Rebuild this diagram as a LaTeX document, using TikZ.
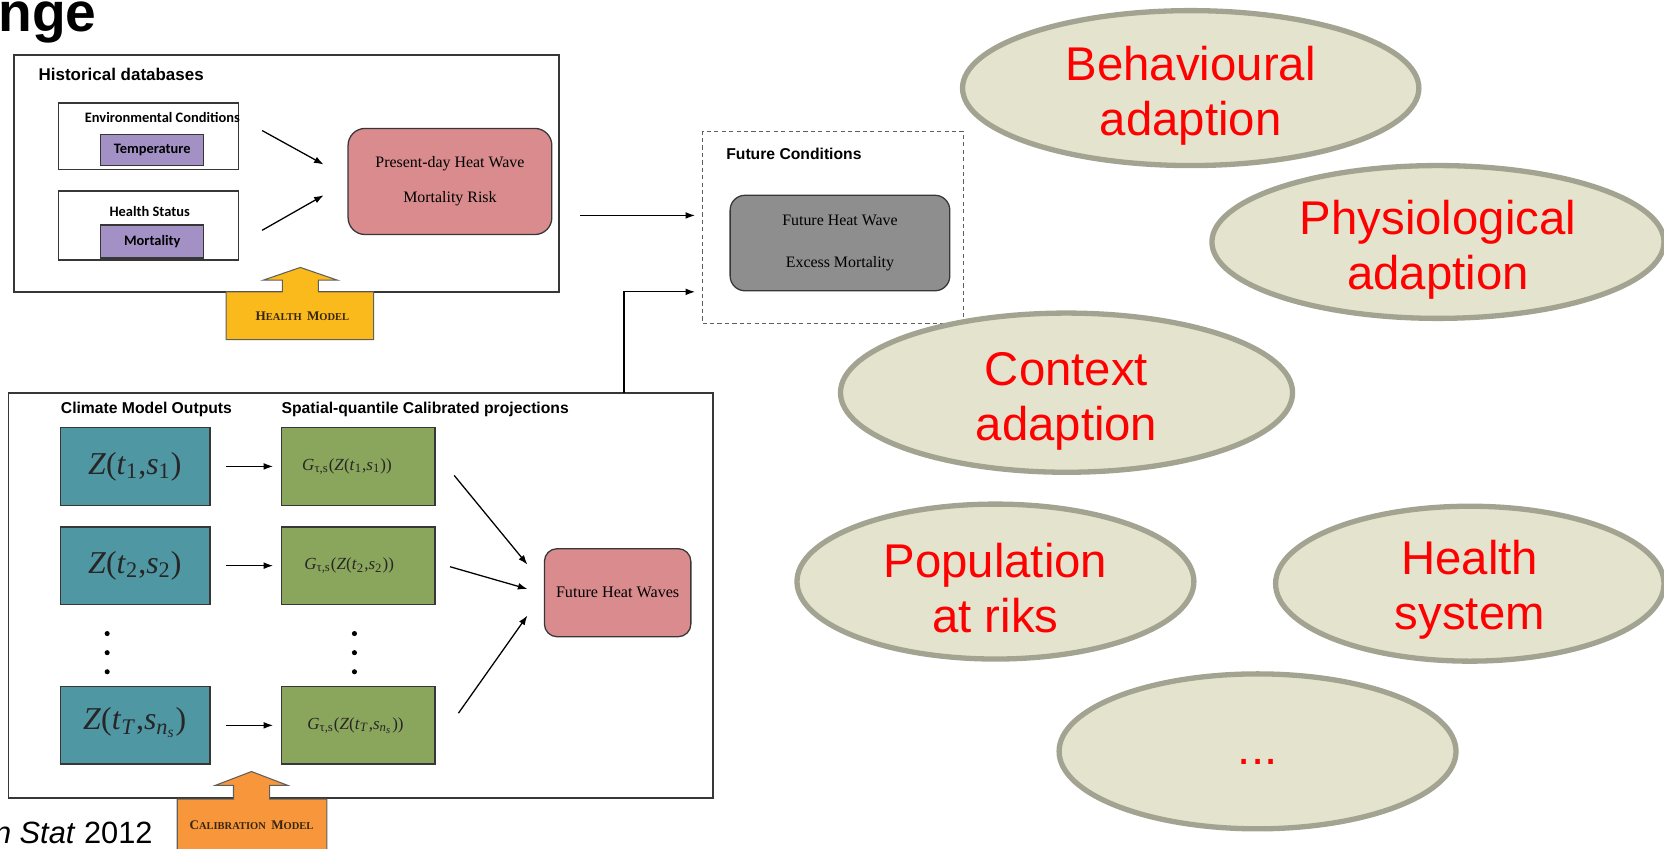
\documentclass[tikz,border=0pt]{standalone}
\usepackage{fontspec}
\setmainfont{Liberation Serif}
\setsansfont{Liberation Sans}
\newfontfamily\calfont{Carlito}
\usetikzlibrary{arrows.meta,shapes.geometric,calc}

\definecolor{ink}{RGB}{55,55,55}
\definecolor{lilac}{RGB}{163,145,198}
\definecolor{rose}{RGB}{217,139,141}
\definecolor{slate}{RGB}{142,142,142}
\definecolor{tealbox}{RGB}{80,151,164}
\definecolor{olivebox}{RGB}{138,165,92}
\definecolor{amber}{RGB}{250,186,28}
\definecolor{tangerine}{RGB}{247,150,58}
\definecolor{capink}{RGB}{55,38,15}
\definecolor{khaki}{RGB}{228,227,206}
\definecolor{khakiline}{RGB}{163,163,145}
\definecolor{alert}{RGB}{255,0,0}

% large and small capitals for the model labels
\newcommand\capL[1]{{\fontsize{6.2pt}{6pt}\selectfont #1}}
\newcommand\capS[1]{{\fontsize{4.95pt}{6pt}\selectfont #1}}

\tikzset{
  frame/.style={draw=ink, line width=0.9pt, inner sep=0pt},
  inbox/.style={draw=ink, line width=0.6pt, inner sep=0pt},
  conn/.style={draw=black, line width=0.6pt, -{Latex[length=4.5pt,width=3.2pt]}},
  hdr/.style={font=\sffamily\bfseries\fontsize{7.4pt}{9pt}\selectfont, inner sep=0pt, anchor=west},
  tag/.style={font=\calfont\bfseries\fontsize{6.8pt}{8pt}\selectfont, inner sep=0pt},
  serif/.style={font=\fontsize{7.5pt}{16.5pt}\selectfont, align=center, inner sep=0pt},
  zbox/.style={inbox, fill=tealbox, minimum width=70.5pt, minimum height=36.5pt},
  gbox/.style={inbox, fill=olivebox, minimum width=72.5pt, minimum height=36.5pt},
  ztext/.style={inner sep=0pt, font=\fontsize{15pt}{16pt}\selectfont, text=black!85},
  gtext/.style={inner sep=0pt, font=\fontsize{8pt}{9pt}\selectfont, text=black!85},
  bubble/.style={ellipse, draw=khakiline, fill=khaki, line width=2.5pt, inner sep=0pt},
  bubbletext/.style={inner sep=0pt, text=alert, align=center,
    font=\sffamily\fontsize{22.3pt}{26pt}\selectfont},
  bigarrow/.style={draw=ink!80, line width=0.5pt},
  dot/.style={circle, fill=black, inner sep=0pt, minimum size=2.4pt},
}

\begin{document}
\begin{tikzpicture}[x=0.5pt, y=-0.5pt]
\clip (0,0) rectangle (1568,800);

% ---- slide title fragment and citation
\node[anchor=base west, inner sep=0pt, font=\sffamily\bfseries\fontsize{26pt}{28pt}\selectfont] (title) at (-2,30) {nge};
\node[anchor=base west, inner sep=0pt, font=\sffamily\fontsize{14.5pt}{16pt}\selectfont] (cite) at (-6,795) {\textit{n Stat} 2012};

% ---- historical databases
\node[frame, minimum width=257pt, minimum height=111.5pt] (hist) at (270,163.5) {};
\node[hdr, font=\sffamily\bfseries\fontsize{8pt}{9pt}\selectfont] (histlbl) at (36,70) {Historical databases};
\node[inbox, minimum width=85pt, minimum height=31.5pt] (env) at (140,128.5) {};
\node[tag] (envlbl) at (153,111) {Environmental Conditions};
\node[inbox, fill=lilac, minimum width=48.5pt, minimum height=14.5pt, tag] (temp) at (143.5,141.5) {Temperature};
\node[inbox, minimum width=85pt, minimum height=32.5pt] (hstat) at (140,212.5) {};
\node[tag] (hstatlbl) at (141,199) {Health Status};
\node[inbox, fill=lilac, minimum width=48.5pt, minimum height=15.5pt, tag] (mort) at (143.5,227.5) {Mortality};
\node[inbox, fill=rose, rounded corners=8pt, minimum width=96pt, minimum height=50pt, serif] (risk) at (424,171)
  {Present-day Heat Wave\\Mortality Risk};

\coordinate (e1) at (247,123);
\coordinate (e2) at (305,155);
\coordinate (m1) at (247,217);
\coordinate (m2) at (305,184);
\draw[conn] (e1) -- (e2);
\draw[conn] (m1) -- (m2);

% health model block arrow
\draw[bigarrow, fill=amber] (213,275) -- (213,320) -- (352,320) -- (352,275) -- (300,275)
  -- (300,264) -- (318,264) -- (283,252) -- (248,264) -- (266,264) -- (266,275) -- cycle;
\node[inner sep=0pt, text=capink, font=\bfseries] (hm) at (285,298) {\capL{H}\capS{EALTH} \capL{M}\capS{ODEL}};

% ---- future conditions
\node[draw=ink!80, dash pattern=on 2pt off 1.5pt, line width=0.5pt, minimum width=123pt, minimum height=90.5pt, inner sep=0pt] (fut) at (785,214.5) {};
\node[hdr] (futlbl) at (684,145) {Future Conditions};
\node[inbox, fill=slate, rounded corners=7pt, minimum width=103.5pt, minimum height=45pt, serif,
  font=\fontsize{7.5pt}{19.5pt}\selectfont] (excess) at (791.5,229) {Future Heat Wave\\Excess Mortality};

\coordinate (h2f) at (547,203);
\coordinate (f2in) at (655,203);
\draw[conn] (h2f) -- (f2in);

% ---- calibration block
\node[frame, minimum width=332pt, minimum height=191pt] (calib) at (340,561) {};
\node[hdr] (cmo) at (57,386) {Climate Model Outputs};
\node[hdr] (scp) at (265,386) {Spatial-quantile Calibrated projections};

\node[zbox] (z1) at (127.5,439.5) {};
\node[zbox] (z2) at (127.5,533) {};
\node[zbox] (z3) at (127.5,683.5) {};
\node[ztext] (z1t) at (127,439.5) {\textit{Z}(\textit{t}\textsubscript{1},\textit{s}\textsubscript{1})};
\node[ztext] (z2t) at (127,533) {\textit{Z}(\textit{t}\textsubscript{2},\textit{s}\textsubscript{2})};
\node[ztext] (z3t) at (127,681) {\textit{Z}(\textit{t}\textsubscript{\textit{T}},\textit{s}\textsubscript{\textit{n}\textsubscript{\textit{s}}})};

\node[gbox] (g1) at (337.5,439.5) {};
\node[gbox] (g2) at (337.5,533) {};
\node[gbox] (g3) at (337.5,683.5) {};
\node[gtext] (g1t) at (327,439.5) {\textit{G}\textsubscript{τ,s}(\textit{Z}(\textit{t}\textsubscript{1},\textit{s}\textsubscript{1}))};
\node[gtext] (g2t) at (329,533) {\textit{G}\textsubscript{τ,s}(\textit{Z}(\textit{t}\textsubscript{2},\textit{s}\textsubscript{2}))};
\node[gtext] (g3t) at (335,683.5) {\textit{G}\textsubscript{τ,s}(\textit{Z}(\textit{t}\textsubscript{\textit{T}},\textit{s}\textsubscript{\textit{n}\textsubscript{\textit{s}}}))};

\foreach \k in {1,2,3} {
  \draw[conn, shorten <=7pt, shorten >=3.5pt] (z\k.east) -- (g\k.west);
}

\node[dot] (zd1) at (101,597) {};
\node[dot] (zd2) at (101,615) {};
\node[dot] (zd3) at (101,633) {};
\node[dot] (gd1) at (334,597) {};
\node[dot] (gd2) at (334,615) {};
\node[dot] (gd3) at (334,633) {};

\node[inbox, fill=rose, rounded corners=6pt, minimum width=69pt, minimum height=41.5pt, serif,
  font=\fontsize{7.6pt}{9pt}\selectfont] (fhw) at (582,558.5) {Future Heat Waves};

\coordinate (a1) at (428,448);
\coordinate (b1) at (497,532);
\coordinate (a2) at (424,534);
\coordinate (b2) at (497,555);
\coordinate (a3) at (432,672);
\coordinate (b3) at (497,580);
\draw[conn] (a1) -- (b1);
\draw[conn] (a2) -- (b2);
\draw[conn] (a3) -- (b3);

% riser from the calibration block into future conditions
\coordinate (riser) at (588,370);
\coordinate (f2in2) at (655,275);
\draw[conn] (riser) |- (f2in2);

% calibration model block arrow
\draw[bigarrow, fill=tangerine] (167,753) -- (167,812) -- (308,812) -- (308,753) -- (254,753)
  -- (254,740) -- (271,740) -- (237,727) -- (203,740) -- (220,740) -- (220,753) -- cycle;
\node[inner sep=0pt, text=capink, font=\bfseries] (cm) at (237,778) {\capL{C}\capS{ALIBRATION} \capL{M}\capS{ODEL}};

% ---- adaptation bubbles
\node[bubble, minimum width=215pt, minimum height=73pt] (beh) at (1122,83) {};
\node[bubble, minimum width=213pt, minimum height=72pt] (phy) at (1355,228) {};
\node[bubble, minimum width=213pt, minimum height=75pt] (ctx) at (1005,370) {};
\node[bubble, minimum width=187pt, minimum height=73pt] (pop) at (938,548) {};
\node[bubble, minimum width=183pt, minimum height=73pt] (hsys) at (1385,550) {};
\node[bubble, minimum width=187pt, minimum height=73pt] (more) at (1185,708) {};

\node[bubbletext] (behtxt) at ([yshift=-3.5pt]beh.center) {Behavioural\\adaption};
\node[bubbletext] (phytxt) at ([yshift=-3.5pt]phy.center) {Physiological\\adaption};
\node[bubbletext] (ctxtxt) at ([yshift=-4pt]ctx.center) {Context\\adaption};
\node[bubbletext] (poptxt) at ([yshift=-3pt]pop.center) {Population\\at riks};
\node[bubbletext] (hsystxt) at ([yshift=-3pt]hsys.center) {Health\\system};
\node[bubbletext, anchor=base] (moretxt) at ([yshift=-6pt]more.center) {...};

\end{tikzpicture}
\end{document}
